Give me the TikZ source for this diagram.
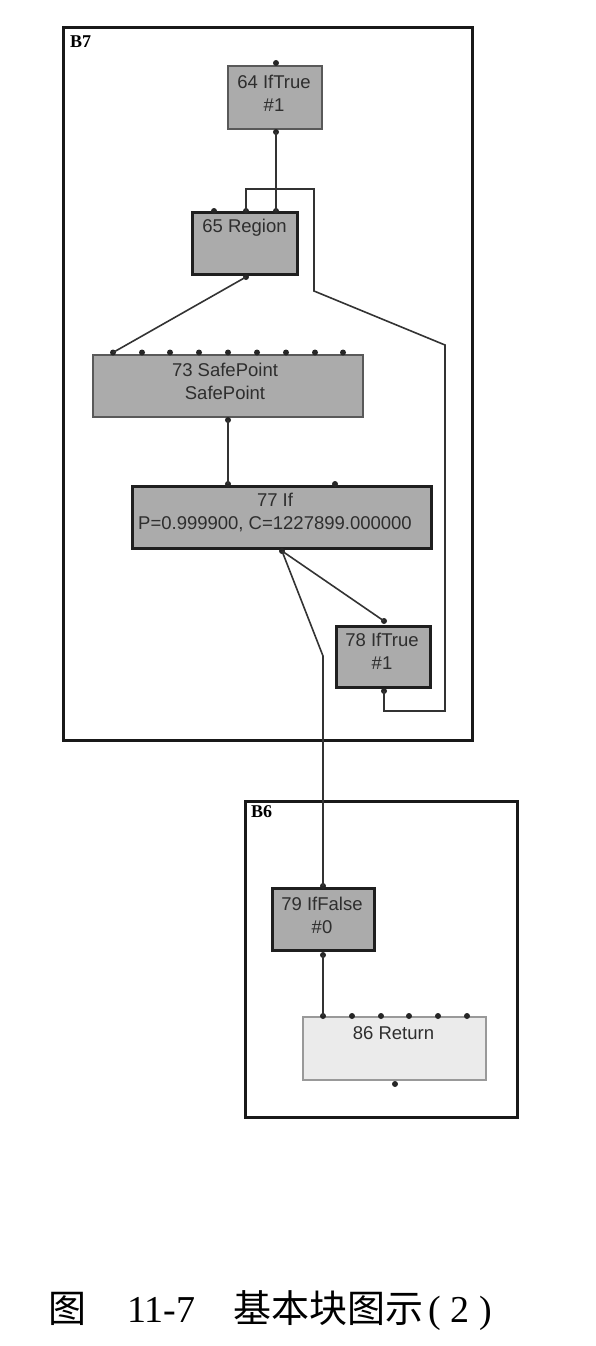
\documentclass[tikz,border=0pt]{standalone}
\usepackage{fontspec}
\setmainfont{Liberation Serif}
\newfontfamily\nodefont{Liberation Sans}
\newfontfamily\cjk{Noto Sans CJK SC}
\begin{document}
\begin{tikzpicture}[x=1pt,y=-1pt,
  wire/.style={draw=black!80, line width=1.6pt},
  graybox/.style={draw=black!65, line width=1.3pt, fill=black!33, inner sep=0pt},
  heavybox/.style={draw=black!88, line width=3pt, fill=black!33, inner sep=0pt},
  retbox/.style={draw=black!40, line width=1.1pt, fill=black!8, inner sep=0pt},
  block/.style={draw=black!90, line width=3pt, inner sep=0pt},
  blocklbl/.style={font=\bfseries\fontsize{18}{18}\selectfont, anchor=north west, inner sep=0pt},
  lbl/.style={font=\nodefont\fontsize{18.5}{23}\selectfont, text=black!82, align=center, inner sep=0pt},
  dot/.style={circle, fill=black!85, inner sep=0pt, minimum size=6pt},
]
\useasboundingbox (0,0) rectangle (596,1346);

% basic blocks
\node[block, minimum width=409, minimum height=712] (B7) at (267.5,384) {};
\node[blocklbl] (B7l) at (70,36) {B7};
\node[block, minimum width=272, minimum height=316] (B6) at (381,959) {};
\node[blocklbl] (B6l) at (251,805) {B6};

% 64 IfTrue
\node[graybox, minimum width=94, minimum height=63] (n64) at (275,97.5) {};
\node[lbl] (t64) at (274,93.5) {64 IfTrue\\\#1};
\node[dot] (d64t) at (276,63) {};
\node[dot] (d64b) at (276,132) {};

% 65 Region
\node[heavybox, minimum width=105, minimum height=62] (n65) at (244.5,243) {};
\node[lbl] (t65) at (244.5,228) {65 Region};
\foreach \i/\x in {1/214,2/246,3/276} \node[dot] (d65t\i) at (\x,211) {};
\node[dot] (d65b) at (246,277) {};

% 73 SafePoint
\node[graybox, minimum width=270, minimum height=62] (n73) at (228,386) {};
\node[lbl] (t73) at (225,381.5) {73 SafePoint\\SafePoint};
\foreach \i/\x in {1/113,2/142,3/170,4/199,5/228,6/257,7/286,8/315,9/343}
  \node[dot] (d73t\i) at (\x,352.5) {};
\node[dot] (d73b) at (228,420) {};

% 77 If
\node[heavybox, minimum width=299, minimum height=62] (n77) at (281.5,517) {};
\node[lbl] (t77) at (275,512) {77 If\\P=0.999900, C=1227899.000000};
\node[dot] (d77t1) at (228,484) {};
\node[dot] (d77t2) at (335,484) {};
\node[dot] (d77b) at (282,551) {};

% 78 IfTrue
\node[heavybox, minimum width=94, minimum height=61] (n78) at (383,656.5) {};
\node[lbl] (t78) at (382,651.5) {78 IfTrue\\\#1};
\node[dot] (d78t) at (384,621) {};
\node[dot] (d78b) at (384,691) {};

% 79 IfFalse
\node[heavybox, minimum width=102, minimum height=62] (n79) at (323,919) {};
\node[lbl] (t79) at (322,915) {79 IfFalse\\\#0};
\node[dot] (d79t) at (323,886) {};
\node[dot] (d79b) at (323,955) {};

% 86 Return
\node[retbox, minimum width=183, minimum height=63] (n86) at (394.5,1048.5) {};
\node[lbl] (t86) at (393.5,1033) {86 Return};
\foreach \i/\x in {1/323,2/352,3/381,4/409,5/438,6/467}
  \node[dot] (d86t\i) at (\x,1016) {};
\node[dot] (d86b) at (395,1084) {};

% bends of the back edge and of the false edge
\coordinate (lp1) at (314,189);
\coordinate (lp2) at (314,291);
\coordinate (lp3) at (445,345);
\coordinate (lp4) at (445,711);
\coordinate (fb) at (323,656);

% edges
\draw[wire] (d64b.center) -- (d65t3.center);
\draw[wire] (d65t2.center) |- (lp1) -- (lp2) -- (lp3) -- (lp4) -| (d78b.center);
\draw[wire] (d65b.center) -- (d73t1.center);
\draw[wire] (d73b.center) -- (d77t1.center);
\draw[wire] (d77b.center) -- (d78t.center);
\draw[wire] (d77b.center) -- (fb) -- (d79t.center);
\draw[wire] (d79b.center) -- (d86t1.center);

% caption
\node[anchor=base west, inner sep=0pt, font=\fontsize{38}{38}\selectfont] (cap)
  at (48,1322) {{\cjk 图}\hspace{41pt}11-7\hspace{38pt}{\cjk 基本块图示}\hspace{5pt}( 2 )};
\end{tikzpicture}
\end{document}
